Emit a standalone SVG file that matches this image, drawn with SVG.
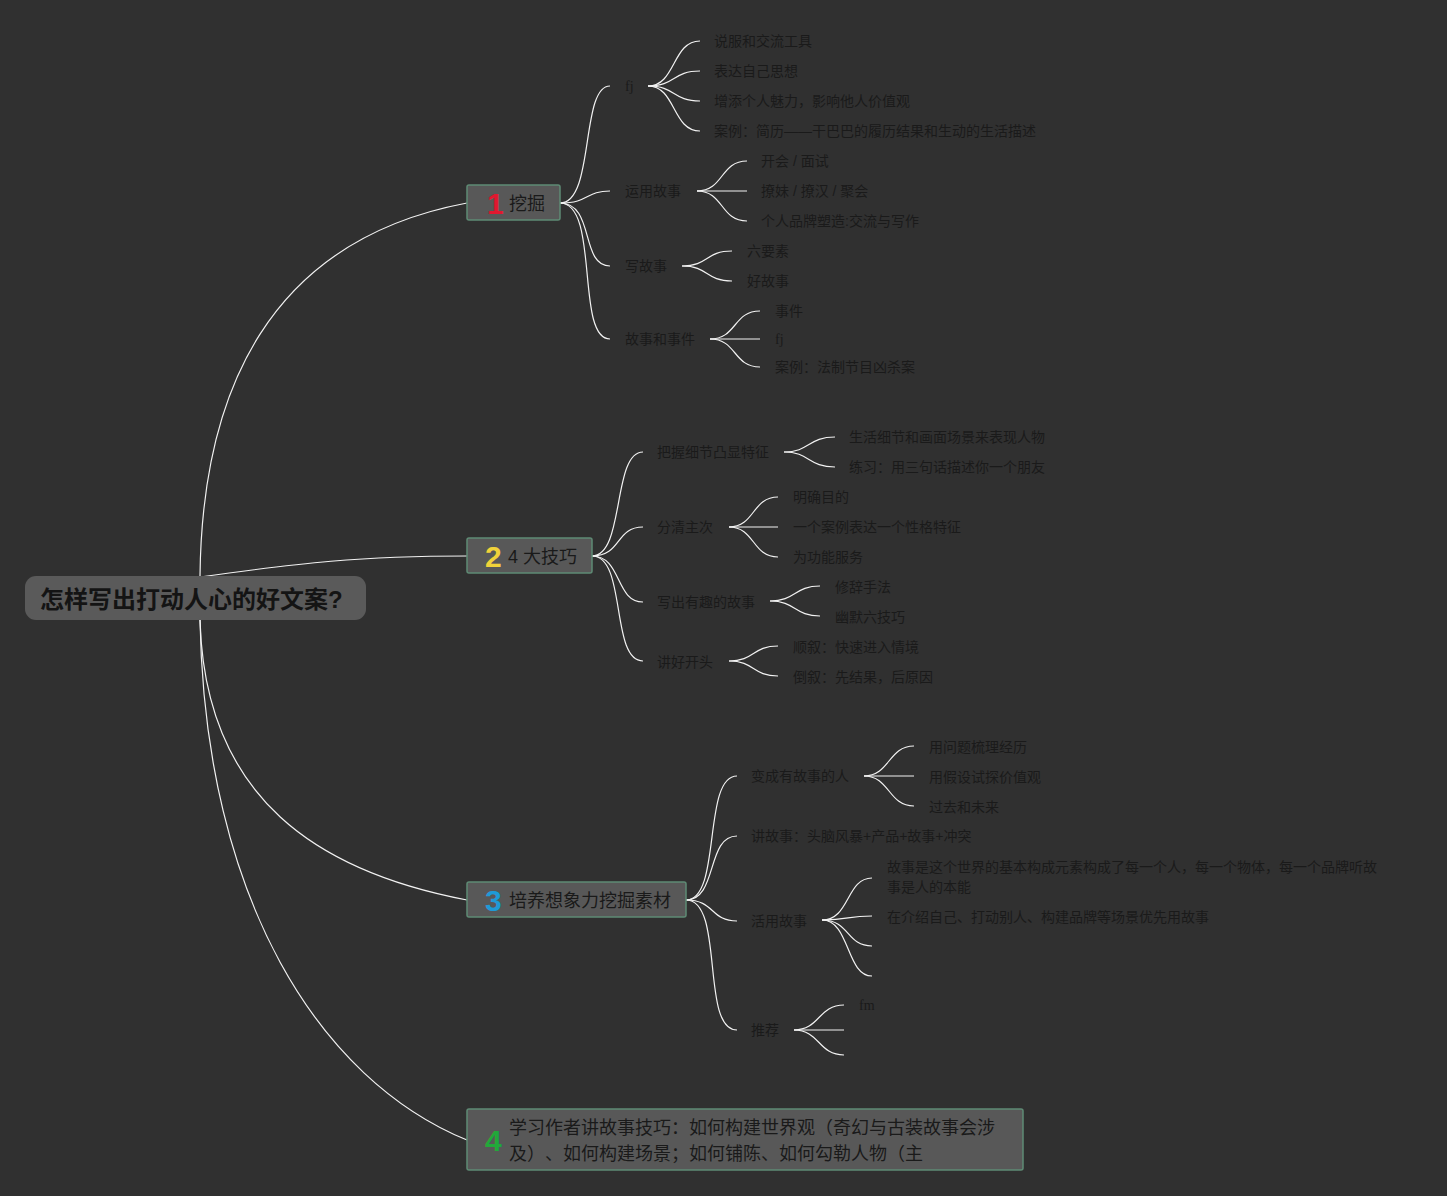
<svg xmlns="http://www.w3.org/2000/svg" width="1447" height="1196" viewBox="0 0 1447 1196">
<style>
text{text-spacing-trim:space-all}
.bg{fill:#303030}
.c{fill:none;stroke:#f2f2f2;stroke-width:1.2}
.t{font-family:"Liberation Sans","Noto Sans CJK SC",sans-serif;font-size:14px;fill:#1a1a1a}
.s{font-family:"Liberation Serif",serif;font-size:14px;fill:#1a1a1a}
.bt{font-family:"Liberation Sans","Noto Sans CJK SC",sans-serif;font-size:18px;fill:#1a1a1a}
.num{font-family:"Liberation Sans",sans-serif;font-size:30px;font-weight:bold}
.box{fill:#585858;stroke:#5e8a74;stroke-width:1.5}
.root{fill:#5a5a5a}
.rt{font-family:"Liberation Sans","Noto Sans CJK SC",sans-serif;font-size:24px;font-weight:bold;fill:#141414}
</style>
<rect class="bg" x="0" y="0" width="1447" height="1196"/>
<g id="connectors">
<path class="c" d="M200,576 C202,390 270,240 467,203"/>
<path class="c" d="M200,577 C300,563 360,556 467,556"/>
<path class="c" d="M200,620 C205,800 320,872 467,900"/>
<path class="c" d="M200,620 C205,900 320,1080 467,1140"/>
<path class="c" d="M560,203 C595,203 580,86 610,86"/>
<path class="c" d="M560,203 C590,203 585,191 610,191"/>
<path class="c" d="M560,203 C595,203 580,266 610,266"/>
<path class="c" d="M560,203 C600,203 575,339 610,339"/>
<path class="c" d="M648,86 C676,86 672,41 700,41"/>
<path class="c" d="M648,86 C676,86 672,71 700,71"/>
<path class="c" d="M648,86 C676,86 672,101 700,101"/>
<path class="c" d="M648,86 C676,86 672,131 700,131"/>
<path class="c" d="M697,191 C724,191 720,161 747,161"/>
<path class="c" d="M697,191 L747,191"/>
<path class="c" d="M697,191 C724,191 720,221 747,221"/>
<path class="c" d="M682,266 C709,266 705,251 732,251"/>
<path class="c" d="M682,266 C709,266 705,281 732,281"/>
<path class="c" d="M710,339 C737,339 733,311 760,311"/>
<path class="c" d="M710,339 L760,339"/>
<path class="c" d="M710,339 C737,339 733,367 760,367"/>
<path class="c" d="M592,556 C625,556 612,452 643,452"/>
<path class="c" d="M592,556 C622,556 615,527 643,527"/>
<path class="c" d="M592,556 C622,556 615,602 643,602"/>
<path class="c" d="M592,556 C627,556 610,661 643,661"/>
<path class="c" d="M784,452 C810,452 808,437 835,437"/>
<path class="c" d="M784,452 C810,452 808,467 835,467"/>
<path class="c" d="M729,527 C755,527 752,497 778,497"/>
<path class="c" d="M729,527 L778,527"/>
<path class="c" d="M729,527 C755,527 752,557 778,557"/>
<path class="c" d="M770,601 C796,601 794,586 820,586"/>
<path class="c" d="M770,601 C796,601 794,616 820,616"/>
<path class="c" d="M729,661 C755,661 752,646 778,646"/>
<path class="c" d="M729,661 C755,661 752,676 778,676"/>
<path class="c" d="M686,900 C722,900 702,776 737,776"/>
<path class="c" d="M686,900 C718,900 706,836 737,836"/>
<path class="c" d="M686,900 C715,900 710,921 737,921"/>
<path class="c" d="M686,900 C725,900 700,1030 737,1030"/>
<path class="c" d="M864,776 C890,776 888,746 914,746"/>
<path class="c" d="M864,776 L914,776"/>
<path class="c" d="M864,776 C890,776 888,806 914,806"/>
<path class="c" d="M822,920 C850,920 846,878 872,878"/>
<path class="c" d="M822,920 C850,920 846,916 872,916"/>
<path class="c" d="M822,920 C850,920 846,946 872,946"/>
<path class="c" d="M822,920 C850,920 846,976 872,976"/>
<path class="c" d="M794,1030 C820,1030 818,1005 844,1005"/>
<path class="c" d="M794,1030 L844,1030"/>
<path class="c" d="M794,1030 C820,1030 818,1055 844,1055"/>
</g>
<g id="root">
<rect class="root" x="25" y="576" width="341" height="44" rx="11"/>
<text class="rt" x="40" y="608">怎样写出打动人心的好文案?</text>
</g>
<g id="b1">
<rect class="box" x="467" y="185" width="93" height="35" rx="2"/>
<text class="num" x="487" y="214" fill="#e0182f">1</text>
<text class="bt" x="509" y="210">挖掘</text>
</g>
<g id="b2">
<rect class="box" x="467" y="538" width="125" height="35" rx="2"/>
<text class="num" x="485" y="567" fill="#f0d23a">2</text>
<text class="bt" x="508" y="563">4 大技巧</text>
</g>
<g id="b3">
<rect class="box" x="467" y="882" width="219" height="35" rx="2"/>
<text class="num" x="485" y="911" fill="#1e9ad6">3</text>
<text class="bt" x="509" y="907">培养想象力挖掘素材</text>
</g>
<g id="b4">
<rect class="box" x="467" y="1109" width="556" height="61" rx="2"/>
<text class="num" x="485" y="1151" fill="#22a83a">4</text>
<text class="bt" x="509" y="1134">学习作者讲故事技巧：如何构建世界观（奇幻与古装故事会涉</text>
<text class="bt" x="509" y="1160">及）、如何构建场景；如何铺陈、如何勾勒人物（主</text>
</g>
<g id="b1-children">
<text class="s" x="625" y="91">fj</text>
<text class="t" x="625" y="196">运用故事</text>
<text class="t" x="625" y="271">写故事</text>
<text class="t" x="625" y="344">故事和事件</text>
<text class="t" x="714" y="46">说服和交流工具</text>
<text class="t" x="714" y="76">表达自己思想</text>
<text class="t" x="714" y="106">增添个人魅力，影响他人价值观</text>
<text class="t" x="714" y="136">案例：简历——干巴巴的履历结果和生动的生活描述</text>
<text class="t" x="761" y="166">开会 / 面试</text>
<text class="t" x="761" y="196">撩妹 / 撩汉 / 聚会</text>
<text class="t" x="761" y="226">个人品牌塑造:交流与写作</text>
<text class="t" x="747" y="256">六要素</text>
<text class="t" x="747" y="286">好故事</text>
<text class="t" x="775" y="316">事件</text>
<text class="s" x="775" y="344">fj</text>
<text class="t" x="775" y="372">案例：法制节目凶杀案</text>
</g>
<g id="b2-children">
<text class="t" x="657" y="457">把握细节凸显特征</text>
<text class="t" x="657" y="532">分清主次</text>
<text class="t" x="657" y="607">写出有趣的故事</text>
<text class="t" x="657" y="667">讲好开头</text>
<text class="t" x="849" y="442">生活细节和画面场景来表现人物</text>
<text class="t" x="849" y="472">练习：用三句话描述你一个朋友</text>
<text class="t" x="793" y="502">明确目的</text>
<text class="t" x="793" y="532">一个案例表达一个性格特征</text>
<text class="t" x="793" y="562">为功能服务</text>
<text class="t" x="835" y="592">修辞手法</text>
<text class="t" x="835" y="622">幽默六技巧</text>
<text class="t" x="793" y="652">顺叙：快速进入情境</text>
<text class="t" x="793" y="682">倒叙：先结果，后原因</text>
</g>
<g id="b3-children">
<text class="t" x="751" y="781">变成有故事的人</text>
<text class="t" x="751" y="841">讲故事：头脑风暴+产品+故事+冲突</text>
<text class="t" x="751" y="926">活用故事</text>
<text class="t" x="751" y="1035">推荐</text>
<text class="t" x="929" y="752">用问题梳理经历</text>
<text class="t" x="929" y="782">用假设试探价值观</text>
<text class="t" x="929" y="812">过去和未来</text>
<text class="t" x="887" y="872">故事是这个世界的基本构成元素构成了每一个人，每一个物体，每一个品牌听故</text>
<text class="t" x="887" y="892">事是人的本能</text>
<text class="t" x="887" y="922">在介绍自己、打动别人、构建品牌等场景优先用故事</text>
<text class="s" x="859" y="1010">fm</text>
</g>
</svg>
